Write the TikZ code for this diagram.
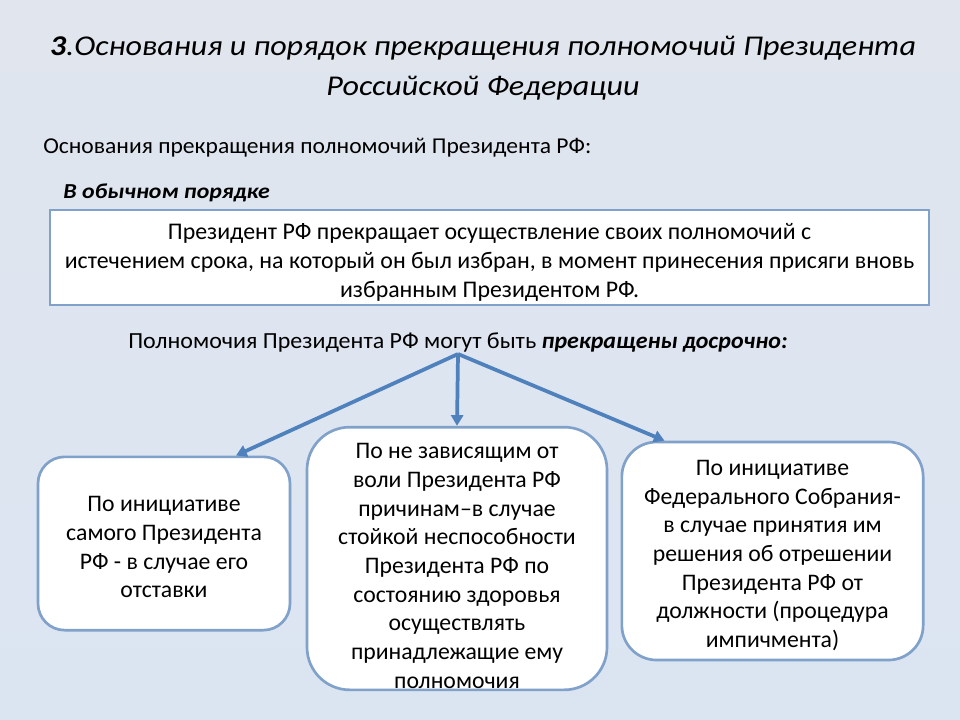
\documentclass[tikz,border=0pt]{standalone}
\usepackage{fontspec}
\setmainfont{Carlito}
\newfontfamily\wideface[FakeStretch=1.12]{Carlito}
\newfontfamily\boxface[FakeStretch=1.04]{Carlito}
\usetikzlibrary{positioning,arrows.meta,shadows}
\definecolor{slBack}{RGB}{219,229,242}
\definecolor{slBackTop}{RGB}{224,229,238}
\definecolor{slLine}{RGB}{128,161,202}
\definecolor{slArrow}{RGB}{79,129,189}
\tikzset{
    base/.style={align=center, text=black, inner sep=0pt},
    heading/.style={base, font=\wideface\fontsize{21.5}{30}\selectfont\itshape},
    plain/.style={base, font=\boxface\fontsize{17}{21}\selectfont},
    plainbox/.style={base, rectangle, draw=slLine, line width=1.8pt, fill=white},
    boxtext/.style={base, font=\fontsize{17.9}{21.75}\selectfont},
    reason/.style={base, rectangle, rounded corners=20pt, draw=slLine, line width=2pt,
                   fill=white,
                   drop shadow={opacity=0.12, shadow xshift=0.8pt, shadow yshift=-0.8pt}},
    reasontext/.style={base, font=\fontsize{17.8}{21.5}\selectfont},
    flow/.style={-{Triangle[length=8pt,width=9pt]}, line width=2.8pt, color=slArrow}
}
\begin{document}
\begin{tikzpicture}[x=0.75pt, y=-0.75pt]
  % background of the slide
  \shade[top color=slBackTop, bottom color=slBack] (0,0) rectangle (960,720);
  \useasboundingbox (0,0) rectangle (960,720);

  % title
  \node[heading] (title) at (483,48) {\textbf{3}.Основания и порядок прекращения полномочий Президента};
  \node[heading] (title2) at (483,88) {Российской Федерации};

  % usual order
  \node[plain, anchor=west] (reasons) at (43,148) {Основания прекращения полномочий Президента РФ:};
  \node[plain, anchor=west, font=\wideface\fontsize{16}{20}\selectfont\bfseries\itshape] (usual) at (63,193) {В обычном порядке};
  \node[plainbox, minimum width=659pt, minimum height=71pt] (term) at (489.5,257.5) {};
  \node[boxtext, yshift=-3.8pt] (termtext) at (term.center)
    {Президент РФ прекращает осуществление своих полномочий с\\
     истечением срока, на который он был избран, в момент принесения присяги вновь\\
     избранным Президентом РФ.};

  % early termination
  \node[plain, anchor=west, font=\boxface\fontsize{17.3}{21}\selectfont] (early) at (128,343)
    {Полномочия Президента РФ могут быть \textbf{\textit{прекращены досрочно:}}};
  \coordinate (split) at (458,354);

  \node[reason, minimum width=189pt, minimum height=130pt] (resign) at (164,543.5) {};
  \node[reasontext, yshift=-2.8pt] (resigntext) at (resign.center)
    {По инициативе\\самого Президента\\РФ - в случае его\\отставки};
  \node[reason, rounded corners=32pt, minimum width=225pt, minimum height=197pt] (health) at (457,558.5) {};
  \node[reasontext, yshift=-5.5pt] (healthtext) at (health.center)
    {По не зависящим от\\воли Президента РФ\\причинам–в случае\\стойкой неспособности\\Президента РФ по\\состоянию здоровья\\осуществлять\\принадлежащие ему\\полномочия};
  \node[reason, rounded corners=26pt, minimum width=226pt, minimum height=163.5pt] (impeach) at (772.5,551) {};
  \node[reasontext, yshift=-3.5pt] (impeachtext) at (impeach.center)
    {По инициативе\\Федерального Собрания-\\в случае принятия им\\решения об отрешении\\Президента РФ от\\должности (процедура\\импичмента)};

  \draw[flow] (split) -- ([xshift=54pt]resign.north);
  \draw[flow] (split) -- (health.north);
  \draw[flow] (split) -- ([xshift=33pt]impeach.north west);
\end{tikzpicture}
\end{document}
